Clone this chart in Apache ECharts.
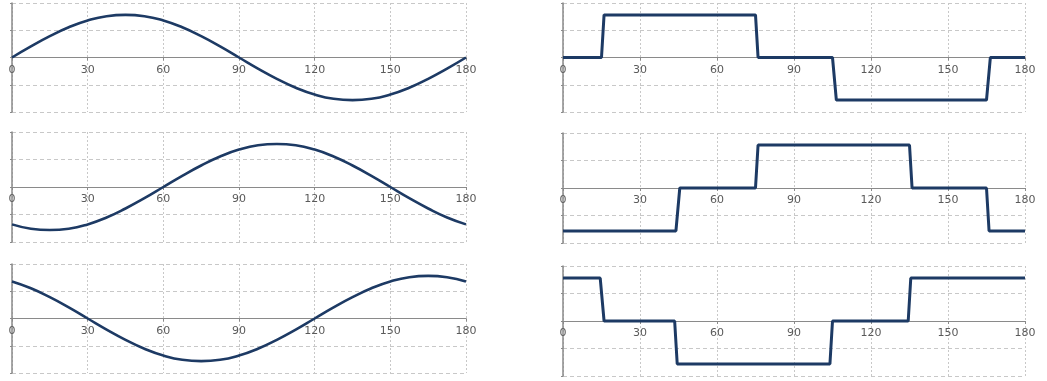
<!DOCTYPE html>
<html>
<head>
<meta charset="utf-8">
<script src="https://cdn.jsdelivr.net/npm/echarts@6/dist/echarts.min.js"></script>
<style>
  html, body { margin: 0; padding: 0; background: #ffffff; }
  #chart { width: 1047px; height: 381px; }
</style>
</head>
<body>
<div id="chart"></div>
<script>
// Angle axis (degrees) and its tick labels
const angleTicks = [0, 30, 60, 90, 120, 150, 180];

// Sine phases, sampled every 7.5 degrees from 0 to 180 (values in % of peak)
const sineAngles = [0, 7.5, 15, 22.5, 30, 37.5, 45, 52.5, 60, 67.5, 75, 82.5, 90,
                    97.5, 105, 112.5, 120, 127.5, 135, 142.5, 150, 157.5, 165, 172.5, 180];
const phaseA = [0, 26, 50, 71, 87, 97, 100, 97, 87, 71, 50, 26, 0,
                -26, -50, -71, -87, -97, -100, -97, -87, -71, -50, -26, 0];
const phaseB = [-87, -97, -100, -97, -87, -71, -50, -26, 0, 26, 50, 71, 87,
                97, 100, 97, 87, 71, 50, 26, 0, -26, -50, -71, -87];
const phaseC = [87, 71, 50, 26, 0, -26, -50, -71, -87, -97, -100, -97, -87,
                -71, -50, -26, 0, 26, 50, 71, 87, 97, 100, 97, 87];

// Six-step waveforms: [angle, level] breakpoints
const stepA = [[0, 0], [15, 0], [16, 100], [75, 100], [76, 0], [105, 0], [106.5, -100], [165, -100], [166.5, 0], [180, 0]];
const stepB = [[0, -100], [44, -100], [45.5, 0], [75, 0], [76, 100], [135, 100], [136, 0], [165, 0], [166, -100], [180, -100]];
const stepC = [[0, 100], [14.5, 100], [16, 0], [43.5, 0], [44.5, -100], [104, -100], [105, 0], [134.5, 0], [135.5, 100], [180, 100]];

const LINE_COLOR = '#1d3a64';

const panels = [
  { left: 12,  top: 3,   width: 454, height: 109, data: sineAngles.map((a, i) => [a, phaseA[i]]), smooth: true },
  { left: 12,  top: 132, width: 454, height: 110, data: sineAngles.map((a, i) => [a, phaseB[i]]), smooth: true },
  { left: 12,  top: 264, width: 454, height: 109, data: sineAngles.map((a, i) => [a, phaseC[i]]), smooth: true },
  { left: 563, top: 3,   width: 462, height: 109, data: stepA, smooth: false },
  { left: 563, top: 133, width: 462, height: 110, data: stepB, smooth: false },
  { left: 563, top: 266, width: 462, height: 110, data: stepC, smooth: false }
];

const grid = [], xAxis = [], yAxis = [], series = [];
panels.forEach((p, i) => {
  grid.push({ left: p.left, top: p.top, width: p.width, height: p.height, containLabel: false });
  // x axis drawn across the middle of the panel (the zero level of the symmetric y range)
  xAxis.push({
    type: 'value', gridIndex: i, position: 'bottom', offset: -p.height / 2,
    min: angleTicks[0], max: angleTicks[angleTicks.length - 1], interval: 30,
    axisLine: { onZero: false, lineStyle: { color: '#8a8a8a', width: 1 } },
    axisTick: { show: true, length: 3, lineStyle: { color: '#8a8a8a' } },
    axisLabel: { color: '#5a5a5a', fontSize: 11, fontFamily: 'DejaVu Sans, sans-serif', margin: 7 },
    splitLine: { show: true, lineStyle: { color: '#c8c8c8', type: [2, 2], width: 1 } }
  });
  yAxis.push({
    type: 'value', gridIndex: i,
    min: -128, max: 128, interval: 64,
    axisLine: { show: true, onZero: false, lineStyle: { color: '#8a8a8a', width: 1.5 } },
    axisTick: { show: true, length: 2, lineStyle: { color: '#8a8a8a' } },
    axisLabel: { show: false },
    splitLine: { show: true, lineStyle: { color: '#c8c8c8', type: [4, 3], width: 1 } }
  });
  series.push({
    type: 'line', xAxisIndex: i, yAxisIndex: i,
    data: p.data, smooth: p.smooth, showSymbol: false, symbol: 'none',
    lineStyle: { color: LINE_COLOR, width: p.smooth ? 2.6 : 3 },
    z: 3
  });
});

const chart = echarts.init(document.getElementById('chart'), null, { renderer: 'canvas' });
chart.setOption({
  animation: false,
  backgroundColor: '#ffffff',
  grid, xAxis, yAxis, series
});
</script>
</body>
</html>
